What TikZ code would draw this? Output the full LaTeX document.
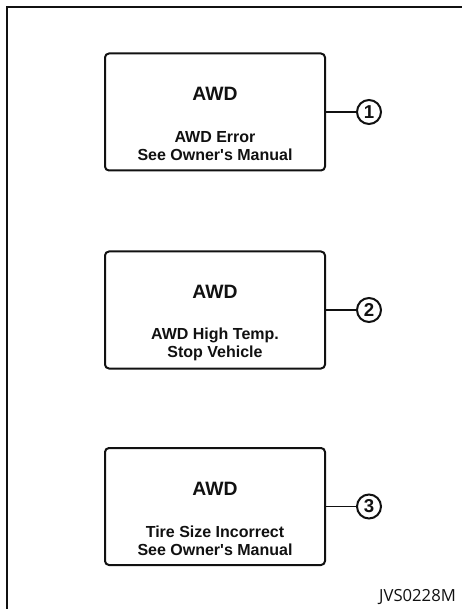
\documentclass[tikz,border=0pt]{standalone}
\usepackage{fontspec}
\setmainfont{Liberation Sans}
\newfontfamily\codefont{Open Sans}
\usepackage{tikz}
\usetikzlibrary{positioning}
\definecolor{DashInk}{HTML}{111111}
\tikzset{
  dashtitle/.style={font=\bfseries\fontsize{14.5}{16}\selectfont, text=DashInk},
  dashmsg/.style={font=\bfseries\fontsize{12}{13.5}\selectfont, text=DashInk, align=center},
  dashbox/.style={draw=DashInk, line width=1.5pt, rounded corners=3pt, fill=white, minimum width=165pt, minimum height=87.75pt},
  callnum/.style={circle, draw=DashInk, line width=1.5pt, inner sep=0pt, minimum size=18pt, text=DashInk, font=\bfseries\fontsize{14}{14}\selectfont},
  callline/.style={draw=DashInk, line width=0.8pt},
  framelines/.style={draw=DashInk, line width=1.5pt},
  codelabel/.style={font=\codefont\fontsize{12.5}{13}\selectfont, text=DashInk}
}
\newcommand{\apos}{\textquotesingle}

\begin{document}
\begin{tikzpicture}[x=0.75pt, y=-0.75pt]
\useasboundingbox (0,0) rectangle (462,609);
\draw[framelines] (6.5,609) |- (462,7.5);
\node[dashbox] (box1) at (215,112) {};
\node[dashtitle] (awd1) at (215,94) {AWD};
\node[dashmsg] (msg1) at (215,146) {AWD Error\\See Owner\apos s Manual};
\node[callnum] (num1) at (369,112) {1};
\draw[callline] (box1.east) -- (num1);
\node[dashbox] (box2) at (215,310) {};
\node[dashtitle] (awd2) at (215,292) {AWD};
\node[dashmsg] (msg2) at (215,344) {AWD High Temp.\\Stop Vehicle};
\node[callnum] (num2) at (369,310) {2};
\draw[callline] (box2.east) -- (num2);
\node[dashbox] (box3) at (215,506.5) {};
\node[dashtitle] (awd3) at (215,488.5) {AWD};
\node[dashmsg] (msg3) at (215,540.5) {Tire Size Incorrect\\See Owner\apos s Manual};
\node[callnum] (num3) at (369,506.5) {3};
\draw[callline] (box3.east) -- (num3);
\node[codelabel] (code) at (417.5,597.5) {JVS0228M};
\end{tikzpicture}
\end{document}
